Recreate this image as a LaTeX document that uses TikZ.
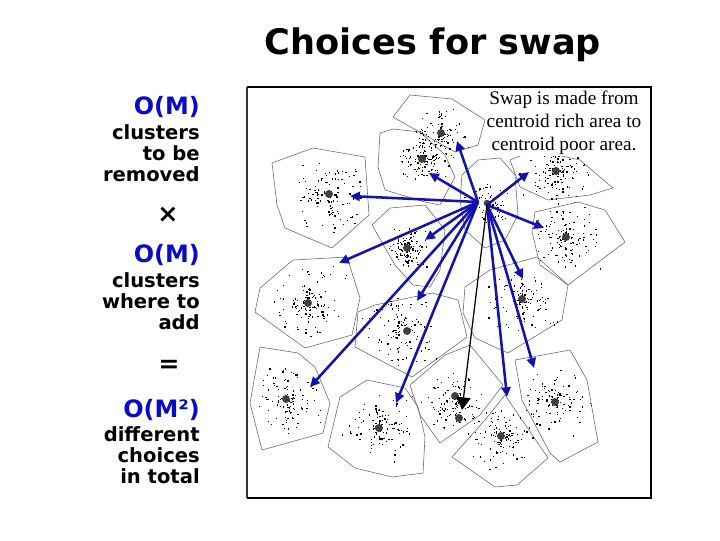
\documentclass[tikz,border=0pt]{standalone}
\usepackage{fontspec}
\usepackage{tikz}
\usetikzlibrary{arrows.meta}
\usetikzlibrary{calc}
\usepackage{xcolor}

\newfontfamily\dvs{DejaVu Sans}
\newfontfamily\tms{Liberation Serif}
\definecolor{swapblue}{RGB}{18,18,180}
\definecolor{textblue}{RGB}{10,10,205}

\begin{document}
\begin{tikzpicture}[
  x=0.025cm, y=-0.025cm,
  title/.style={font=\dvs\bfseries\fontsize{25}{30}\selectfont},
  bigO/.style={anchor=east, inner sep=0pt, text=textblue, font=\dvs\bfseries\fontsize{17}{19}\selectfont},
  words/.style={anchor=east, inner sep=0pt, align=right, font=\dvs\bfseries\fontsize{13.9}{14.9}\selectfont},
  op/.style={inner sep=0pt, font=\dvs\bfseries\fontsize{18}{20}\selectfont},
  note/.style={align=center, inner sep=0pt, font=\tms\fontsize{13.7}{16.5}\selectfont},
  cell/.style={draw=black!60, line width=0.4pt, line join=round},
  centroid/.style={circle, fill=black!75, inner sep=0pt, minimum size=2mm},
  speck/.style={fill=black},
  move/.style={-{Triangle[length=7pt, width=6.5pt]}, swapblue, line width=1.8pt},
  pick/.style={-{Triangle[length=9pt, width=10pt]}, black, line width=0.9pt}
]
\useasboundingbox (0,0) rectangle (720,540);

% Title
\node[title] (head) at (433,45) {Choices for swap};

% Counting on the left
\node[bigO] (om1) at (200,107) {O(M)};
\node[words] (rm) at (200,153) {clusters\\to be\\removed};
\node[op] (times) at (168,215) {×};
\node[bigO] (om2) at (200,255) {O(M)};
\node[words] (ad) at (200,301) {clusters\\where to\\add};
\node[op] (equals) at (169,366) {=};
\node[bigO] (om3) at (200,410) {O(M²)};
\node[words] (tot) at (200,455) {different\\choices\\in total};

% Frame of the cluster picture
\draw[black!80, line width=0.8pt] (247,498) -- (247,87);
\draw[line width=1.8pt] (247,87) -- (651,87) -- (651,498) -- (247,498);

% Cluster cells
\draw[cell] (272,163) -- (313,148) -- (365,157) -- (369,215) -- (332,248) -- (285,228) -- (277,205) -- cycle;
\draw[cell] (393,117) -- (410,95) -- (452,99) -- (485,120) -- (478,145) -- (455,152) -- cycle;
\draw[cell] (380,133) -- (393,129) -- (420,132) -- (445,155) -- (455,177) -- (440,205) -- (425,202) -- (385,190) -- (378,167) -- cycle;
\draw[cell] (462,175) -- (478,160) -- (500,158) -- (515,175) -- (518,215) -- (505,240) -- (485,248) -- (465,230) -- (460,200) -- cycle;
\draw[cell] (510,160) -- (535,150) -- (580,160) -- (613,188) -- (590,195) -- (548,200) -- (520,187) -- cycle;
\draw[cell] (535,212) -- (578,202) -- (605,210) -- (625,242) -- (568,285) -- (540,265) -- (532,232) -- cycle;
\draw[cell] (465,287) -- (490,270) -- (537,257) -- (568,285) -- (562,320) -- (508,353) -- (475,338) -- (463,313) -- cycle;
\draw[cell] (260,288) -- (293,260) -- (347,257) -- (360,298) -- (352,335) -- (305,348) -- (255,312) -- cycle;
\draw[cell] (372,225) -- (390,208) -- (425,205) -- (445,230) -- (440,270) -- (430,287) -- (413,285) -- (395,265) -- cycle;
\draw[cell] (358,312) -- (375,305) -- (432,293) -- (458,300) -- (467,337) -- (412,377) -- (355,347) -- cycle;
\draw[cell] (260,347) -- (298,353) -- (315,367) -- (330,403) -- (323,433) -- (262,450) -- (250,403) -- cycle;
\draw[cell] (340,397) -- (367,380) -- (405,388) -- (418,407) -- (425,437) -- (423,473) -- (392,477) -- (355,468) -- (328,447) -- cycle;
\draw[cell] (410,385) -- (445,355) -- (470,345) -- (503,385) -- (480,415) -- (440,443) -- (420,415) -- cycle;
\draw[cell] (452,457) -- (485,420) -- (505,395) -- (548,458) -- (517,485) -- (495,487) -- cycle;
\draw[cell] (515,360) -- (570,350) -- (587,380) -- (598,442) -- (560,462) -- (550,453) -- (522,400) -- cycle;

% Data points round each centroid
\pgfmathsetseed{4242}
\foreach \cx/\cy/\r/\n in {329/194/42/90, 441/133/30/60, 424/158/28/90, 487/204/24/50,
    556/171/38/100, 566/237/38/90, 522/299/38/80, 308/303/42/90, 407/248/24/90,
    398/330/42/80, 286/399/38/90, 379/428/40/80, 455/402/36/70, 501/436/38/80, 555/402/38/80}{
  \foreach \k in {1,...,\n}{
    \pgfmathsetmacro\dx{\r*rand*rnd}
    \pgfmathsetmacro\dy{\r*rand*rnd}
    \fill[speck] (\cx+\dx,\cy+\dy) rectangle ++(1.3,1.3);
  }
  \foreach \k in {1,...,30}{
    \pgfmathsetmacro\dx{0.75*\r*rand}
    \pgfmathsetmacro\dy{0.75*\r*rand}
    \fill[speck] (\cx+\dx,\cy+\dy) rectangle ++(1.2,1.2);
  }
}

% Centroids
\foreach \cx/\cy [count=\i] in {329/194, 441/133, 422/159, 556/171, 566/237, 522/299, 308/303,
    407/248, 407/331, 286/399, 379/428, 455/396, 459/418, 501/436, 555/402}{
  \node[centroid] (c\i) at (\cx,\cy) {};
}
\node[centroid, minimum size=1.6mm] (hubc) at (487,203) {};

% Swap moves out of the rich area
\coordinate (hubL) at (478,202);
\coordinate (hubR) at (487,205);
\foreach \tx/\ty [count=\i] in {457/141, 429/173, 350/196, 425/240, 339/263, 417/301, 310/387, 396/403}{
  \coordinate (tl\i) at (\tx,\ty);
  \draw[move] (hubL) -- (tl\i);
}
\foreach \tx/\ty [count=\i] in {529/172, 544/228, 523/279, 507/397, 534/368}{
  \coordinate (tr\i) at (\tx,\ty);
  \draw[move] (hubR) -- (tr\i);
}
\coordinate (poor) at (462,410);
\draw[pick] (hubR) -- (poor);

% Remark in the corner
\node[note, fill=white, inner sep=1pt] (remark) at (564,123) {Swap is made from\\centroid rich area to\\centroid poor area.};

\end{tikzpicture}
\end{document}
